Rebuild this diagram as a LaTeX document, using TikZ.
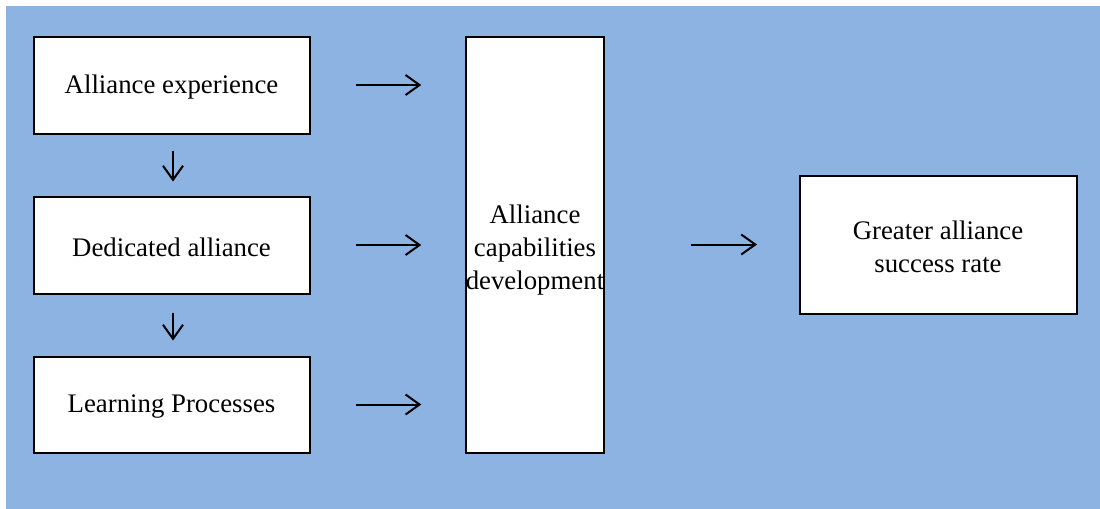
\documentclass[tikz,border=0pt]{standalone}
\usepackage{fontspec}
\setmainfont{Liberation Serif}
\usepackage{xcolor}
\usetikzlibrary{arrows.meta}
\usetikzlibrary{calc}
\definecolor{back-blue}{RGB}{141, 179, 226}
\newcommand{\lowtext}[1]{\rule{0pt}{#1}}

\begin{document}
\begin{tikzpicture}[x=0.5pt, y=-0.5pt,
    box/.style={draw=black, fill=white, line width=1pt, align=center,
        font=\fontsize{13.4}{16.5}\selectfont, inner sep=0pt},
    arr/.style={line width=1pt, -{Straight Barb[length=7pt, width=10pt, line width=1pt]}}]
\useasboundingbox (0,0) rectangle (1100,509);
\fill[back-blue] (6,6) rectangle (1100,509);

\node[box, minimum width=138pt, minimum height=48.5pt] (exp) at (171.5,85) {\lowtext{11.2pt}Alliance experience};
\node[box, minimum width=138pt, minimum height=48.5pt] (ded) at (171.5,245) {\lowtext{11.2pt}Dedicated alliance};
\node[box, minimum width=138pt, minimum height=48pt] (learn) at (171.5,404.5) {\lowtext{11.2pt}Learning Processes};
\node[box, minimum width=68.5pt, minimum height=208pt] (cap) at (535,244.5) {\lowtext{15.2pt}Alliance\\capabilities\\development};
\node[box, minimum width=138.5pt, minimum height=69pt] (rate) at (938,244.5) {\lowtext{11.2pt}Greater alliance\\success rate};

\foreach \src in {exp, ded, learn}
    \draw[arr] ([xshift=22.75pt]\src.east) -- ([xshift=-21.75pt]cap.west |- \src.east);
\draw[arr] ([xshift=0.75pt, yshift=-8pt]exp.south) -- ([xshift=0.75pt, yshift=7pt]ded.north);
\draw[arr] ([xshift=0.75pt, yshift=-9pt]ded.south) -- ([xshift=0.75pt, yshift=7.5pt]learn.north);
\draw[arr] ([xshift=42.75pt]cap.east) -- ([xshift=-20.75pt]rate.west);
\end{tikzpicture}
\end{document}
